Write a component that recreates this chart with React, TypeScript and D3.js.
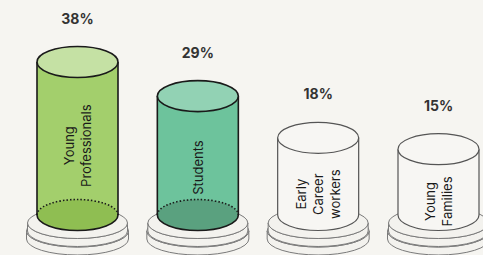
import React from "react";
import * as d3 from "d3";

const categories = ["Young Professionals", "Students", "Early Career workers", "Young Families"];
const labelLines = [["Young", "Professionals"], ["Students"], ["Early", "Career", "workers"], ["Young", "Families"]];
const values = [38, 29, 18, 15];
const bodyColors = ["#a3cf6c", "#6dc39c", "#f7f6f3", "#f7f6f3"];
const topColors = ["#c5e1a4", "#92d2b4", "#f7f6f3", "#f7f6f3"];
const bottomColors = ["#8fbe52", "#5aa17f", "#f7f6f3", "#f7f6f3"];
const highlighted = [true, true, false, false];

const W = 483;
const H = 255;
const BG = "#f6f5f1";

export default function App() {
  const x = d3.scalePoint<string>().domain(categories).range([77.5, 438.5]).padding(0);
  const y = d3.scaleLinear().domain([0, 38]).range([206, 62]);
  const rx = 40.5;
  const ry = 15.5;
  const botY = 215;

  return (
    <svg width={W} height={H} style={{ position: "absolute", left: 0, top: 0, background: BG }}>
      <rect x={0} y={0} width={W} height={H} fill={BG} />
      {categories.map((c, i) => {
        const cx = x(c)!;
        const topY = y(values[i]);
        const left = cx - rx;
        const right = cx + rx;
        const strokeC = highlighted[i] ? "#1a1a1a" : "#555";
        const sw = highlighted[i] ? 1.6 : 1.2;
        const disk = (dcy: number, drx: number, dry: number, h: number) => (
          <g>
            <path
              d={`M${cx - drx},${dcy} A${drx},${dry} 0 0 0 ${cx + drx},${dcy} L${cx + drx},${dcy + h} A${drx},${dry} 0 0 1 ${cx - drx},${dcy + h} Z`}
              fill="#f3f2ee"
              stroke="#7a7a7a"
              strokeWidth={1}
            />
            <ellipse cx={cx} cy={dcy} rx={drx} ry={dry} fill="#f3f2ee" stroke="#7a7a7a" strokeWidth={1} />
          </g>
        );
        const mid = 0.64 * topY + 106;
        const n = labelLines[i].length;
        const lh = 17;
        return (
          <g key={c}>
            {disk(231, 51, 16, 8)}
            {disk(223, 50, 15.5, 8)}
            <path
              d={`M${left},${topY} L${left},${botY} A${rx},${ry} 0 0 0 ${right},${botY} L${right},${topY} Z`}
              fill={bodyColors[i]}
              stroke="none"
            />
            {highlighted[i] && (
              <g>
                <ellipse cx={cx} cy={botY} rx={rx} ry={ry} fill={bottomColors[i]} stroke="none" />
                <path
                  d={`M${left},${botY} A${rx},${ry} 0 0 1 ${right},${botY}`}
                  fill="none"
                  stroke="#1a1a1a"
                  strokeWidth={1.6}
                  strokeDasharray="1.5,2"
                />
              </g>
            )}
            <path
              d={`M${left},${topY} L${left},${botY} A${rx},${ry} 0 0 0 ${right},${botY} L${right},${topY}`}
              fill="none"
              stroke={strokeC}
              strokeWidth={sw}
            />
            <ellipse cx={cx} cy={topY} rx={rx} ry={ry} fill={topColors[i]} stroke={strokeC} strokeWidth={sw} />
            <text
              x={cx}
              y={topY - ry - 23}
              textAnchor="middle"
              fontFamily="Inter, sans-serif"
              fontWeight={700}
              fontSize={14}
              fill="#333"
            >
              {values[i]}%
            </text>
            <g transform={`translate(${cx},${mid}) rotate(-90)`}>
              <text textAnchor="middle" fontFamily="Inter, sans-serif" fontSize={13} fill="#1a1a1a">
                {labelLines[i].map((t, j) => (
                  <tspan key={j} x={0} y={(j - (n - 1) / 2) * lh} dominantBaseline="central">
                    {t}
                  </tspan>
                ))}
              </text>
            </g>
          </g>
        );
      })}
    </svg>
  );
}
